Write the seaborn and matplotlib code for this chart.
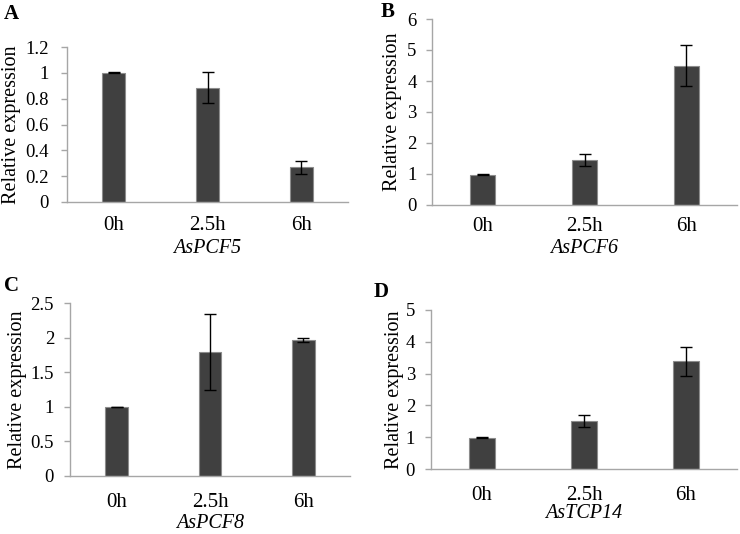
import matplotlib
matplotlib.use("Agg")
import matplotlib.pyplot as plt
import seaborn as sns
import pandas as pd

sns.set_theme(style="white")
plt.rcParams['font.family'] = ['Liberation Serif', 'DejaVu Serif']

times = ["0h", "2.5h", "6h"]

pcf5_mean = [1.0, 0.885, 0.268]
pcf5_err = [0.003, 0.12, 0.053]
pcf6_mean = [0.98, 1.46, 4.50]
pcf6_err = [0.02, 0.20, 0.65]
pcf8_mean = [1.0, 1.79, 1.96]
pcf8_err = [0.003, 0.55, 0.03]
tcp14_mean = [0.99, 1.50, 3.39]
tcp14_err = [0.02, 0.19, 0.45]

genes = ["AsPCF5", "AsPCF6", "AsPCF8", "AsTCP14"]
letters = ["A", "B", "C", "D"]
ylims = [(0, 1.2), (0, 6), (0, 2.5), (0, 5)]
yticks = [[0, 0.2, 0.4, 0.6, 0.8, 1.0, 1.2], [0, 1, 2, 3, 4, 5, 6],
          [0, 0.5, 1.0, 1.5, 2.0, 2.5], [0, 1, 2, 3, 4, 5]]
ytick_labels = [["0", "0.2", "0.4", "0.6", "0.8", "1", "1.2"],
                ["0", "1", "2", "3", "4", "5", "6"],
                ["0", "0.5", "1", "1.5", "2", "2.5"],
                ["0", "1", "2", "3", "4", "5"]]
means = [pcf5_mean, pcf6_mean, pcf8_mean, tcp14_mean]
errs = [pcf5_err, pcf6_err, pcf8_err, tcp14_err]

W, H = 740, 534
fig = plt.figure(figsize=(7.4, 5.34), dpi=100)

# axes rectangles in pixels: left, top, right, bottom
rects = [(67, 47, 348, 202), (432, 19, 737, 205), (70, 303, 350, 476), (431, 310, 737, 469)]
letter_pos = [(4, 19), (381, 17), (4, 291), (374, 297)]
ylabel_x = [12, 393, 18, 395]
xlabel_y = [249, 249, 523, 513]
xtick_pad = [10, 8.5, 12, 12]
ytick_pad = [9, 7, 7.5, 7.5]

axis_color = "#a6a6a6"
bar_color = "#404040"

for i in range(4):
    l, t, r, b = rects[i]
    ax = fig.add_axes([l / W, 1 - b / H, (r - l) / W, (b - t) / H])
    df = pd.DataFrame({"time": times, "value": means[i]})
    sns.barplot(data=df, x="time", y="value", ax=ax, color=bar_color,
                width=0.246, errorbar=None, saturation=1,
                edgecolor="#8c8c8c", linewidth=0.8)
    ax.errorbar(range(len(times)), means[i], yerr=errs[i], fmt="none",
                ecolor="black", elinewidth=1.0, capsize=4, capthick=1.0)
    ax.set_xlim(-0.5, 2.5)
    ax.set_ylim(*ylims[i])
    ax.set_yticks(yticks[i])
    ax.set_yticklabels(ytick_labels[i])
    for s in ["top", "right"]:
        ax.spines[s].set_visible(False)
    for s in ["left", "bottom"]:
        ax.spines[s].set_color(axis_color)
        ax.spines[s].set_linewidth(1.0)
    ax.tick_params(axis="y", left=True, length=4, width=1.0, color=axis_color,
                   labelsize=13.5, pad=ytick_pad[i], labelcolor="black")
    ax.tick_params(axis="x", bottom=False, length=0, labelsize=15,
                   pad=xtick_pad[i], labelcolor="black")
    ax.set_xlabel("")
    ax.set_ylabel("")
    fig.text(ylabel_x[i] / W, 1 - ((t + b) / 2) / H, "Relative expression",
             rotation=90, ha="center", va="center", fontsize=14.5, color="black")
    fig.text(((l + r) / 2) / W, 1 - xlabel_y[i] / H, genes[i], style="italic",
             ha="center", va="center", fontsize=14.5, color="black")
    fig.text(letter_pos[i][0] / W, 1 - letter_pos[i][1] / H, letters[i],
             fontweight="bold", ha="left", va="baseline", fontsize=15, color="black")

fig.savefig("out.png", dpi=100, facecolor="white")
